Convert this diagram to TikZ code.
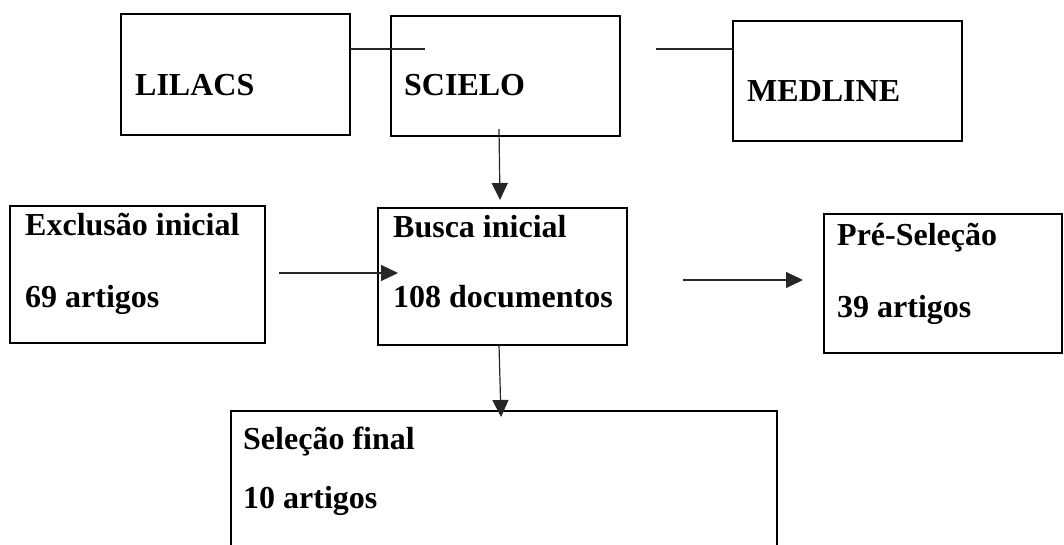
\documentclass[tikz,border=0pt]{standalone}
\usepackage{fontspec}
\setmainfont{Liberation Serif}
\usepackage{tikz}
\usetikzlibrary{arrows.meta}

\tikzset{
  dbbox/.style={draw=black, line width=2.5pt, anchor=north west, inner sep=0pt, outer sep=0pt},
  lbl/.style={anchor=base west, inner sep=0pt, font=\bfseries\fontsize{32}{38}\selectfont},
  link/.style={draw=black!85, line width=1.2pt},
  flow/.style={link, -{Triangle[length=17pt, width=16pt]}}
}

\begin{document}
\begin{tikzpicture}[x=1pt, y=-1pt]
  \useasboundingbox (0,0) rectangle (1064,544);
  \clip (0,0) rectangle (1064,544);

  % bases de dados
  \node[dbbox, minimum width=229pt, minimum height=121pt] (lilacs) at (121,14) {};
  \node[dbbox, minimum width=229pt, minimum height=120pt] (scielo) at (391,16) {};
  \node[dbbox, minimum width=229pt, minimum height=120pt] (medline) at (733,21) {};
  \node[lbl] (lilacs-t) at (135,95) {LILACS};
  \node[lbl] (scielo-t) at (404,95) {SCIELO};
  \node[lbl] (medline-t) at (747,101) {MEDLINE};

  % etapas
  \node[dbbox, minimum width=255pt, minimum height=137pt] (exclusao) at (10,206) {};
  \node[dbbox, minimum width=249pt, minimum height=137pt] (busca) at (378,208) {};
  \node[dbbox, minimum width=238pt, minimum height=139pt] (presel) at (824,214) {};
  \node[dbbox, minimum width=546pt, minimum height=150pt] (selfinal) at (231,411) {};

  \node[lbl] (exclusao-t1) at (25,235) {Exclusão inicial};
  \node[lbl] (exclusao-t2) at (25,307) {69 artigos};
  \node[lbl] (busca-t1) at (393,237) {Busca inicial};
  \node[lbl] (busca-t2) at (393,307) {108 documentos};
  \node[lbl] (presel-t1) at (837,245) {Pré-Seleção};
  \node[lbl] (presel-t2) at (837,317) {39 artigos};
  \node[lbl] (selfinal-t1) at (243,449) {Seleção final};
  \node[lbl] (selfinal-t2) at (243,508) {10 artigos};

  % ligacoes
  \draw[link] ([yshift=25.5pt]lilacs.east) -- ([xshift=34pt, yshift=27pt]scielo.west);
  \draw[link] ([xshift=36pt, yshift=27pt]scielo.east) -- ([yshift=32pt]medline.west);
  \draw[flow] ([xshift=-6.5pt, yshift=7pt]scielo.south) -- ([xshift=-2.5pt, yshift=8pt]busca.north);
  \draw[flow] ([xshift=14pt, yshift=1.5pt]exclusao.east) -- ([xshift=20pt, yshift=3.5pt]busca.west);
  \draw[flow] ([xshift=56pt, yshift=-3.5pt]busca.east) -- ([xshift=-21pt, yshift=3.5pt]presel.west);
  \draw[flow] ([xshift=-3.5pt]busca.south) -- ([xshift=-3pt, yshift=-6pt]selfinal.north);
\end{tikzpicture}
\end{document}
